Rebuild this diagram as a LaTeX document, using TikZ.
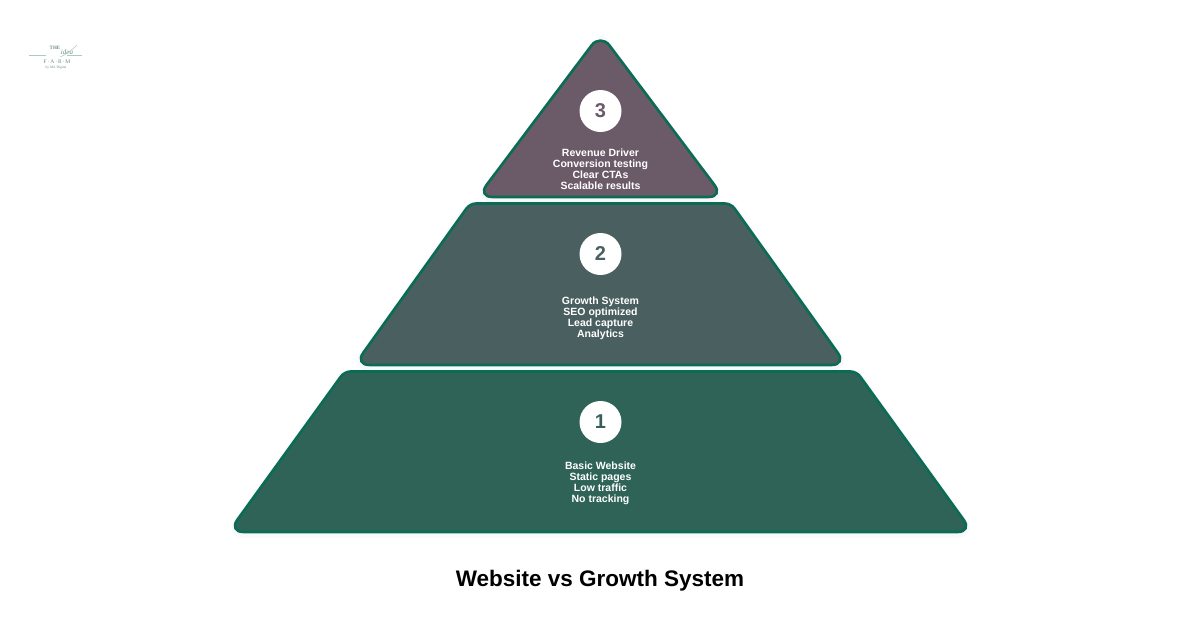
\documentclass[tikz,border=0pt]{standalone}
\usepackage{fontspec}
\setmainfont{Liberation Sans}
\newfontfamily\logoserif{Liberation Serif}
\definecolor{edgegreen}{HTML}{0A6C54}
\definecolor{layerone}{HTML}{2F6358}
\definecolor{layertwo}{HTML}{4A5F5F}
\definecolor{layerthree}{HTML}{6B5A68}
\definecolor{logogreen}{HTML}{A5CDC0}
\definecolor{logodark}{HTML}{6F8F86}
\definecolor{badgeone}{HTML}{3A5F5A}
\tikzset{
  x=1pt,y=-1pt,
  glow/.style={draw=black!40!blue!30,line width=7pt,opacity=.07,line join=round},
  layerbox/.style={draw=edgegreen,line width=2.6pt,line join=round},
  soft/.style={rounded corners=6pt},
  tight/.style={rounded corners=15pt},
  badge/.style={circle,fill=white,minimum size=42pt,inner sep=0pt,font=\bfseries\fontsize{20}{20}\selectfont},
  lines/.style={text=white,align=center,font=\bfseries\fontsize{10.5}{11}\selectfont,inner sep=0pt},
  heading/.style={text=black,font=\bfseries\fontsize{22.5}{26}\selectfont,inner sep=0pt},
  logotext/.style={text=logodark,inner sep=0pt},
  logorule/.style={draw=logogreen,line width=.5pt}
}
\begin{document}
\begin{tikzpicture}
\useasboundingbox (0,0) rectangle (1200,630);
\fill[white] (0,0) rectangle (1200,630);
% soft shadows
\draw[glow] (600.5,36) [tight] -- (723,199) -- (478,199) -- (600.5,36) -- (640,89);
\draw[glow] (600,205) [soft] -- (731,205) [tight] -- (847,367) -- (354,367) [soft] -- (470,205) -- cycle;
\draw[glow] (600,373) [soft] -- (856.5,373) [tight] -- (972.5,534) -- (228.5,534) [soft] -- (344.5,373) -- cycle;
% layers
\path[layerbox,fill=layerthree] (600.5,197) [tight] -- (723.5,197) -- (600.5,33.5) -- (477.5,197) -- cycle;
\path[layerbox,fill=layertwo] (600,203.5) [soft] -- (731,203.5) [tight] -- (846.5,365) -- (354.5,365) [soft] -- (470,203.5) -- cycle;
\path[layerbox,fill=layerone] (600,371.5) [soft] -- (856.5,371.5) [tight] -- (972.5,532) -- (228.5,532) [soft] -- (344.5,371.5) -- cycle;
% badges
\node[badge,text=layerthree] (b3) at (600.5,111) {3};
\node[badge,text=layertwo] (b2) at (600.5,254) {2};
\node[badge,text=badgeone] (b1) at (600.5,422) {1};
% text
\node[lines] (t3) at (600.5,169) {Revenue Driver\\Conversion testing\\Clear CTAs\\Scalable results};
\node[lines] (t2) at (600.5,318.5) {Growth System\\SEO optimized\\Lead capture\\Analytics};
\node[lines] (t1) at (600.5,483) {Basic Website\\Static pages\\Low traffic\\No tracking};
\node[heading] (title) at (600,580.5) {Website vs Growth System};
% logo
\node[logotext,font=\logoserif\bfseries\fontsize{5}{5}\selectfont] (logoa) at (55,48) {THE};
\node[logotext,font=\logoserif\itshape\fontsize{7}{7}\selectfont] (logob) at (67,52) {idea};
\node[logotext,font=\logoserif\fontsize{5.5}{5.5}\selectfont] (logoc) at (57,62) {F\,·\,A\,·\,R\,·\,M};
\node[logotext,font=\logoserif\fontsize{3.5}{3.5}\selectfont] (logod) at (56,68) {by MA Digital};
\draw[logorule] (29,55) -- (46,55);
\draw[logorule] (67,55) -- (82,55);
\draw[logorule] (60,57) .. controls (66,55) and (73,49) .. (77,45);
\end{tikzpicture}
\end{document}
